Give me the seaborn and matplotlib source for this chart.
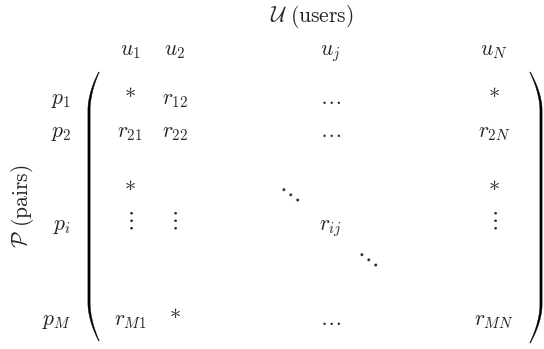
import numpy as np
import matplotlib
matplotlib.use("Agg")
import matplotlib.pyplot as plt
import seaborn as sns
from matplotlib.patches import Polygon

sns.set_theme(style="white")
plt.rcParams["mathtext.fontset"] = "cm"
plt.rcParams["font.family"] = ["DejaVu Serif", "DejaVu Sans"]

# ---- content ----
title = r"$\mathcal{U}\ \mathrm{(users)}$"
ylabel = r"$\mathcal{P}\ \mathrm{(pairs)}$"
col_labels = [r"$u_1$", r"$u_2$", r"$u_j$", r"$u_N$"]
row_labels = [r"$p_1$", r"$p_2$", r"$p_i$", r"$p_M$"]
# (row slot, column slot, text); "*", "vdots", "ddots" get special glyph handling
entries = [
    (0, 0, "*"), (0, 1, r"$r_{12}$"), (0, 3, r"$\ldots$"), (0, 5, "*"),
    (1, 0, r"$r_{21}$"), (1, 1, r"$r_{22}$"), (1, 3, r"$\ldots$"), (1, 5, r"$r_{2N}$"),
    (2, 0, "*"), (2, 2, "ddots"), (2, 5, "*"),
    (3, 0, "vdots"), (3, 1, "vdots"), (3, 3, r"$r_{ij}$"), (3, 5, "vdots"),
    (4, 4, "ddots"),
    (5, 0, r"$r_{M1}$"), (5, 1, "*"), (5, 3, r"$\ldots$"), (5, 5, r"$r_{MN}$"),
]

# ---- layout (pixels) ----
W, H = 544, 349
col_x = [130, 175, 292, 330, 370, 494]
row_y = [104, 137, 197, 230, 262, 325]
label_cols = [0, 1, 3, 5]
label_rows = [0, 1, 3, 5]
fs = 15.5
# rotation of an \ldots, x shift, height of its middle dot above the baseline, size factor
dots_style = {"vdots": (90, -2.5, 9.5, 1.05), "ddots": (-37, 1, 8.5, 1.2)}

fig = plt.figure(figsize=(W / 100, H / 100), dpi=100)
ax = fig.add_axes([0, 0, 1, 1])
ax.set_xlim(0, W)
ax.set_ylim(H, 0)
ax.axis("off")

ax.text(312, 22, title, ha="center", va="baseline", fontsize=fs)
ax.text(22, 206, ylabel, ha="center", va="center", rotation=90, fontsize=fs)

for c, lab in zip(label_cols, col_labels):
    ax.text(col_x[c], 55, lab, ha="center", va="baseline", fontsize=fs)
for r, lab in zip(label_rows, row_labels):
    ax.text(71, row_y[r], lab, ha="right", va="baseline", fontsize=fs)

for r, c, txt in entries:
    x, y = col_x[c], row_y[r]
    if txt in dots_style:
        rot, dx, dy, k = dots_style[txt]
        ax.text(x + dx, y - dy, r"$\ldots$",
                ha="center", va="center", rotation=rot, rotation_mode="anchor",
                fontsize=fs * k)
    elif txt == "*":
        ax.text(x, y, "*", ha="center", va="baseline", fontsize=fs * 1.05, family="cmr10")
    else:
        ax.text(x, y, txt, ha="center", va="baseline", fontsize=fs)


def paren(x_stem, x_tip, y_top, y_bot, w_mid=2.2, w_end=0.6, a=0.72):
    t = np.linspace(0, 1, 400)
    y = y_top + (y_bot - y_top) * t
    s = np.abs(2 * t - 1)
    f = np.clip((s - a) / (1 - a), 0, 1) ** 1.8
    xc = x_stem + (x_tip - x_stem) * f
    w = w_end + (w_mid - w_end) * (1 - f)
    pts = np.concatenate([np.column_stack([xc - w / 2, y]),
                          np.column_stack([xc + w / 2, y])[::-1]])
    ax.add_patch(Polygon(pts, closed=True, facecolor="black", edgecolor="black", lw=0.3))


paren(89, 99, 72, 341)
paren(541, 530, 72, 343)

fig.savefig("out.png", dpi=100, facecolor="white")
